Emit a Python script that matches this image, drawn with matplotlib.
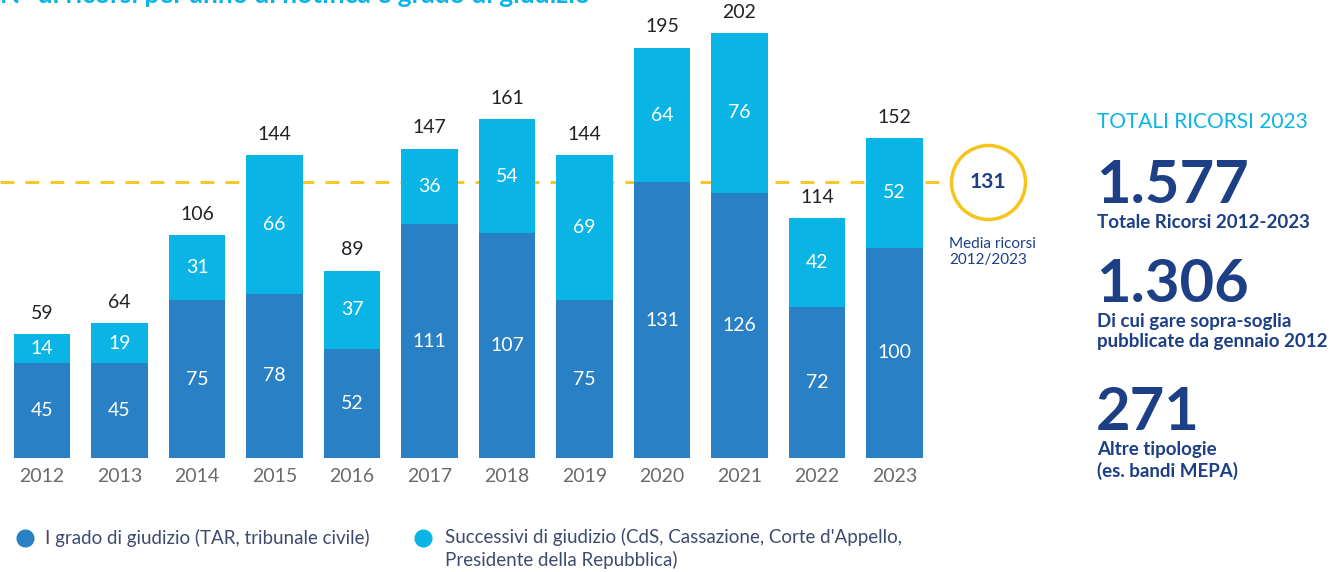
import matplotlib.pyplot as plt
import numpy as np

plt.rcParams['font.family'] = ['Lato', 'DejaVu Sans']

# --- DATI ---
anni = ["2012", "2013", "2014", "2015", "2016", "2017", "2018", "2019", "2020", "2021", "2022", "2023"]
primo_grado = [45, 45, 75, 78, 52, 111, 107, 75, 131, 126, 72, 100]
successivi = [14, 19, 31, 66, 37, 36, 54, 69, 64, 76, 42, 52]
media = 131

titolo = "N° di ricorsi per anno di notifica e grado di giudizio"
leg_primo = "I grado di giudizio (TAR, tribunale civile)"
leg_succ = "Successivi di giudizio (CdS, Cassazione, Corte d'Appello,\nPresidente della Repubblica)"

blu = '#2a80c4'
azzurro = '#0ab4e5'
navy = '#1c3f85'
oro = '#f6c41a'
grigio = '#6a6a6a'

W, H = 1341, 572
fig = plt.figure(figsize=(W / 100, H / 100), dpi=100)

# asse in coordinate pixel: 2012 centrato a x=42, passo 77.5 px, base a y=458, 2.104 px/unità
ax = fig.add_axes([0, (H - 458) / H, 1060 / W, 458 / H])
x0 = -42 / 77.5
ax.set_xlim(x0, x0 + 1060 / 77.5)
ax.set_ylim(0, 458 / 2.104)
ax.axis('off')

x = np.arange(len(anni))
totali = [a + b for a, b in zip(primo_grado, successivi)]
w = 0.735
ax.bar(x, primo_grado, w, color=blu, zorder=2)
ax.bar(x, successivi, w, bottom=primo_grado, color=azzurro, zorder=2)

for i in range(len(anni)):
    ax.text(x[i], primo_grado[i] / 2, str(primo_grado[i]), ha='center', va='center',
            color='white', fontsize=14, zorder=3)
    ax.text(x[i], primo_grado[i] + successivi[i] / 2, str(successivi[i]), ha='center', va='center',
            color='white', fontsize=14, zorder=3)
    ax.annotate(str(totali[i]), xy=(x[i], totali[i]), xytext=(0, 15), textcoords='offset points',
                ha='center', va='center', fontsize=14, color='#222222')
    ax.annotate(anni[i], xy=(x[i], 0), xytext=(0, -13), textcoords='offset points',
                ha='center', va='center', fontsize=14, color=grigio, annotation_clip=False)

# linea della media con cerchio
xc = (988 - 42) / 77.5
ax.plot([x0, xc], [media, media], color=oro, linestyle=(0, (5, 4)), linewidth=2, zorder=1)
ax.scatter([xc], [media], s=2840, facecolor='white', edgecolor=oro, linewidth=2.5, zorder=4)
ax.text(xc, media, str(media), ha='center', va='center', fontsize=15, weight='bold', color=navy, zorder=5)
ax.text(xc - 0.5, media - 26, "Media ricorsi\n2012/2023", ha='left', va='top', fontsize=11,
        color=navy, linespacing=1.2)

# titolo (tagliato in alto come nell'originale)
fig.text(0.0, 1 - 3 / H, titolo, ha='left', va='baseline', fontsize=19, weight='bold', color=azzurro)


def fy(py):
    return 1 - py / H


# legenda
fig.add_artist(plt.Line2D([25 / W], [fy(538)], marker='o', markersize=12, color=blu, linestyle='none'))
fig.add_artist(plt.Line2D([423 / W], [fy(538)], marker='o', markersize=12, color=azzurro, linestyle='none'))
fig.text(45 / W, fy(538), leg_primo, ha='left', va='center', fontsize=13.5, color='#3e4a6e')
fig.text(445 / W, fy(528), leg_succ, ha='left', va='top', fontsize=13.5, color='#3e4a6e',
         linespacing=1.3)

# pannello destro
xr = 1097 / W
fig.text(xr, fy(122), "TOTALI RICORSI 2023", ha='left', va='center', fontsize=15, color=azzurro)
fig.text(xr - 0.001, fy(203), "1.577", ha='left', va='baseline', fontsize=43, weight='bold', color=navy)
fig.text(xr, fy(222), "Totale Ricorsi 2012-2023", ha='left', va='center', fontsize=13.5, weight='bold', color=navy)
fig.text(xr - 0.001, fy(302), "1.306", ha='left', va='baseline', fontsize=43, weight='bold', color=navy)
fig.text(xr, fy(313), "Di cui gare sopra-soglia\npubblicate da gennaio 2012", ha='left', va='top',
         fontsize=13.5, weight='bold', color=navy, linespacing=1.25)
fig.text(xr - 0.001, fy(430), "271", ha='left', va='baseline', fontsize=43, weight='bold', color=navy)
fig.text(xr, fy(441), "Altre tipologie\n(es. bandi MEPA)", ha='left', va='top',
         fontsize=13.5, weight='bold', color=navy, linespacing=1.25)

plt.savefig("out.png", dpi=100)
